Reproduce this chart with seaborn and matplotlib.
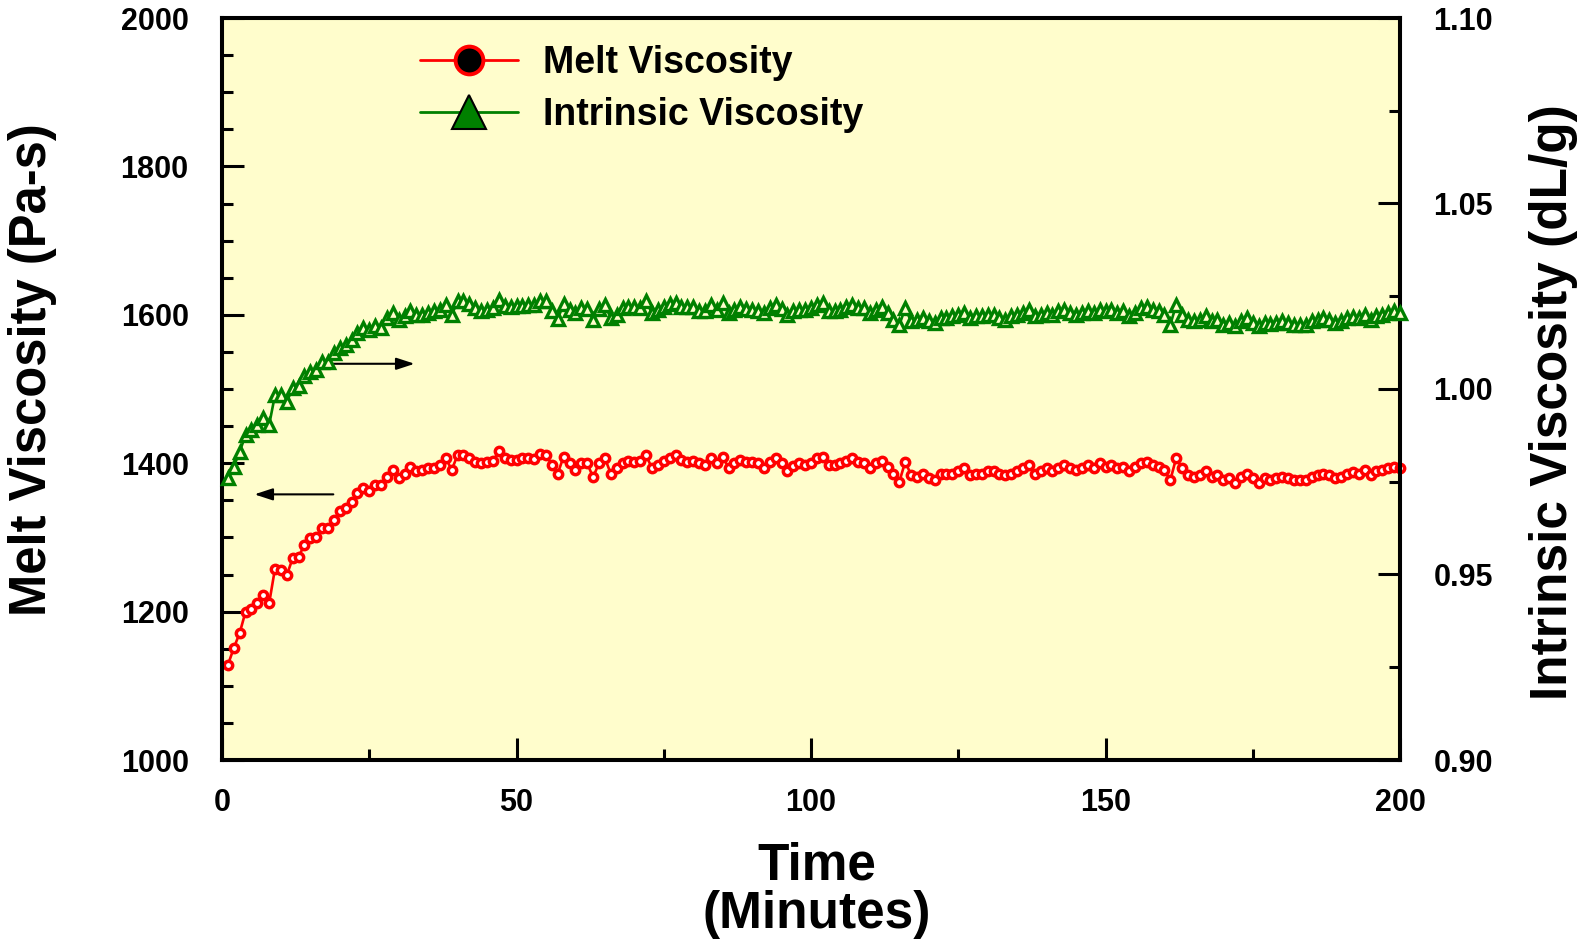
import matplotlib
matplotlib.use('Agg')
import pandas as pd
import matplotlib.pyplot as plt
from matplotlib.lines import Line2D
from matplotlib.ticker import MultipleLocator, FormatStrFormatter
import seaborn as sns

###############################################################################
# Data
###############################################################################
time_min = list(range(1, 201))
melt_visc = [
    1128, 1151, 1171, 1200, 1204, 1211, 1222, 1211, 1258, 1256,
    1249, 1272, 1274, 1290, 1299, 1301, 1312, 1312, 1324, 1335,
    1339, 1348, 1360, 1366, 1362, 1371, 1370, 1382, 1391, 1380,
    1386, 1395, 1389, 1391, 1393, 1393, 1398, 1407, 1391, 1411,
    1411, 1407, 1402, 1400, 1402, 1403, 1416, 1407, 1404, 1404,
    1407, 1407, 1406, 1412, 1411, 1398, 1386, 1409, 1400, 1391,
    1400, 1400, 1381, 1400,
    1407, 1386, 1393, 1400, 1403, 1402, 1403, 1411, 1393, 1398,
    1403, 1407, 1411, 1404, 1402, 1403, 1400, 1398, 1407, 1400,
    1409, 1394, 1400, 1404, 1402, 1402, 1400, 1393, 1402, 1407,
    1400, 1390, 1396, 1400, 1398, 1400, 1407, 1409, 1398, 1398,
    1400, 1403, 1407, 1402, 1400, 1393, 1400, 1403, 1395, 1386,
    1375, 1402, 1384, 1382, 1386, 1380, 1377, 1386, 1386, 1386,
    1390, 1393, 1384, 1386, 1386, 1389, 1390, 1386, 1384, 1386,
    1390, 1393, 1398, 1386, 1390, 1393, 1389, 1393, 1397, 1393,
    1391, 1393, 1398, 1393, 1400, 1395, 1398, 1393, 1395, 1389,
    1395, 1400, 1402, 1398, 1395, 1391, 1377, 1407, 1393, 1384,
    1382, 1384, 1389, 1382, 1384, 1377, 1380, 1373, 1382, 1386,
    1380, 1373, 1380, 1378, 1380, 1382, 1380, 1377, 1377, 1377,
    1382, 1384, 1386, 1384, 1380, 1382, 1386, 1388, 1386, 1391,
    1384, 1389, 1391, 1393, 1395, 1393,
]
intr_visc = [
    0.9759, 0.9791, 0.9831, 0.9876, 0.9890, 0.9903, 0.9921, 0.9903, 0.9984, 0.9984,
    0.9966, 1.0002, 1.0007, 1.0034, 1.0047, 1.0052, 1.0074, 1.0074, 1.0097, 1.0110,
    1.0119, 1.0133, 1.0151, 1.0164, 1.0160, 1.0169, 1.0164, 1.0191, 1.0205, 1.0187,
    1.0196, 1.0209, 1.0200, 1.0200, 1.0205, 1.0209, 1.0214, 1.0227, 1.0200, 1.0236,
    1.0238, 1.0229, 1.0218, 1.0211, 1.0214, 1.0218, 1.0240, 1.0223, 1.0220, 1.0223,
    1.0225, 1.0227, 1.0227, 1.0236, 1.0238, 1.0209, 1.0189, 1.0229, 1.0214, 1.0205,
    1.0218, 1.0216, 1.0187, 1.0216,
    1.0227, 1.0191, 1.0200, 1.0218, 1.0222, 1.0222, 1.0218, 1.0236, 1.0205, 1.0213,
    1.0222, 1.0229, 1.0231, 1.0222, 1.0220, 1.0220, 1.0211, 1.0211, 1.0227, 1.0213,
    1.0231, 1.0205, 1.0213, 1.0220, 1.0216, 1.0213, 1.0209, 1.0205, 1.0218, 1.0227,
    1.0216, 1.0200, 1.0209, 1.0213, 1.0213, 1.0218, 1.0227, 1.0231, 1.0211, 1.0211,
    1.0213, 1.0220, 1.0227, 1.0218, 1.0218, 1.0205, 1.0213, 1.0222, 1.0205, 1.0187,
    1.0173, 1.0218, 1.0182, 1.0187, 1.0191, 1.0182, 1.0178, 1.0191, 1.0191, 1.0196,
    1.0200, 1.0205, 1.0191, 1.0196, 1.0196, 1.0200, 1.0200, 1.0191, 1.0187, 1.0196,
    1.0200, 1.0205, 1.0213, 1.0196, 1.0200, 1.0205, 1.0200, 1.0209, 1.0213, 1.0205,
    1.0200, 1.0205, 1.0209, 1.0205, 1.0213, 1.0209, 1.0213, 1.0205, 1.0209, 1.0196,
    1.0205, 1.0218, 1.0222, 1.0213, 1.0209, 1.0200, 1.0173, 1.0227, 1.0200, 1.0187,
    1.0182, 1.0187, 1.0196, 1.0182, 1.0187, 1.0173, 1.0178, 1.0169, 1.0182, 1.0191,
    1.0178, 1.0169, 1.0178, 1.0175, 1.0178, 1.0182, 1.0178, 1.0173, 1.0173, 1.0173,
    1.0182, 1.0187, 1.0191, 1.0187, 1.0178, 1.0182, 1.0191, 1.0193, 1.0191, 1.0200,
    1.0187, 1.0196, 1.0200, 1.0205, 1.0209, 1.0205,
]
x_ticks = [0, 50, 100, 150, 200]
mv_ticks = [1000, 1200, 1400, 1600, 1800, 2000]
iv_ticks = [0.90, 0.95, 1.00, 1.05, 1.10]
series_names = ['Melt Viscosity', 'Intrinsic Viscosity']

df = pd.DataFrame({'Time': time_min, 'MV': melt_visc, 'IV': intr_visc})

###############################################################################
# Style
###############################################################################
sns.set_theme(style='ticks')
plt.rcParams['font.family'] = ['Liberation Sans', 'DejaVu Sans']
plt.rcParams['font.weight'] = 'bold'
for key in ('text.color', 'axes.labelcolor', 'xtick.color', 'ytick.color',
            'axes.edgecolor'):
    plt.rcParams[key] = 'black'
RED, GREEN, BG = '#FF0000', '#008000', '#FFFDCC'
(W, H) = (1585, 943)

fig = plt.figure(figsize=(W / 100, H / 100), dpi=100)
ax = fig.add_axes([222 / W, 183 / H, 1178 / W, 742 / H])
ax.set_facecolor(BG)

# Melt viscosity (left axis) ---------------------------------------------------
sns.lineplot(
    data=df, x='Time', y='MV', ax=ax, color=RED, lw=1.9,
    marker='o', markersize=6.0, markerfacecolor='white',
    markeredgecolor=RED, markeredgewidth=2.5, clip_on=False, zorder=3
)
# Intrinsic viscosity (right axis) ---------------------------------------------
ax2 = ax.twinx()
sns.lineplot(
    data=df, x='Time', y='IV', ax=ax2, color=GREEN, lw=1.9,
    marker='^', markersize=8, markerfacecolor=BG,
    markeredgecolor=GREEN, markeredgewidth=2.4, clip_on=False, zorder=3
)

ax.set_xlim(0, 200)
ax.set_ylim(1000, 2000)
ax2.set_ylim(0.90, 1.10)
ax.set_xticks(x_ticks)
ax.set_yticks(mv_ticks)
ax2.set_yticks(iv_ticks)
ax.xaxis.set_minor_locator(MultipleLocator(25))
ax.yaxis.set_minor_locator(MultipleLocator(50))
ax2.yaxis.set_minor_locator(MultipleLocator(0.025))
ax2.yaxis.set_major_formatter(FormatStrFormatter('%.2f'))
for a in (ax, ax2):
    a.set_xlabel('')
    a.set_ylabel('')
    for sp in a.spines.values():
        sp.set_linewidth(2.9)
        sp.set_color('black')
ax.tick_params(axis='both', which='both', direction='in', width=2.2,
               top=False, right=False, labelsize=22, colors='black')
ax.tick_params(axis='y', pad=24)
ax.tick_params(axis='x', pad=20)
ax.tick_params(which='major', length=16)
ax.tick_params(which='minor', length=8)
ax2.tick_params(axis='y', which='both', direction='in', width=2.2,
                left=False, right=True, labelsize=22, pad=24, colors='black')
ax2.tick_params(which='major', length=16)
ax2.tick_params(which='minor', length=8)

# Arrows pointing to the matching axis -------------------------------------------
aStyle = dict(arrowstyle='-|>,head_length=0.55,head_width=0.18', color='black',
              lw=1.5, mutation_scale=20, shrinkA=0, shrinkB=0)
ax.annotate('', xy=(32.7, 1534), xytext=(18.9, 1534), arrowprops=aStyle)
ax.annotate('', xy=(5.5, 1358), xytext=(18.9, 1358), arrowprops=aStyle)

# Legend -------------------------------------------------------------------------
handles = [
    Line2D([], [], color=RED, lw=2, marker='o', ms=20, mfc='black',
           mec=RED, mew=2.8),
    Line2D([], [], color=GREEN, lw=2, marker='^', ms=25, mfc=GREEN,
           mec='black', mew=1.5),
]
ax2.legend(
    handles, series_names, loc='upper left',
    bbox_to_anchor=(420 / W, 1 - 45 / H), bbox_transform=fig.transFigure,
    frameon=False, fontsize=27, handlelength=2.6, handletextpad=0.67,
    labelspacing=0.42, borderpad=0, borderaxespad=0
)

# Axis titles --------------------------------------------------------------------
fig.text(33 / W, 1 - 370 / H, 'Melt Viscosity (Pa-s)', rotation=90,
         ha='center', va='center', fontsize=36.5, fontweight='bold')
fig.text(1554 / W, 1 - 402 / H, 'Intrinsic Viscosity (dL/g)', rotation=90,
         ha='center', va='center', fontsize=37, fontweight='bold')
fig.text(817 / W, 1 - 880 / H, 'Time', ha='center', va='baseline',
         fontsize=37, fontweight='bold')
fig.text(817 / W, 1 - 928 / H, '(Minutes)', ha='center', va='baseline',
         fontsize=37, fontweight='bold')

plt.savefig('out.png', dpi=100, facecolor='white')
plt.close('all')
